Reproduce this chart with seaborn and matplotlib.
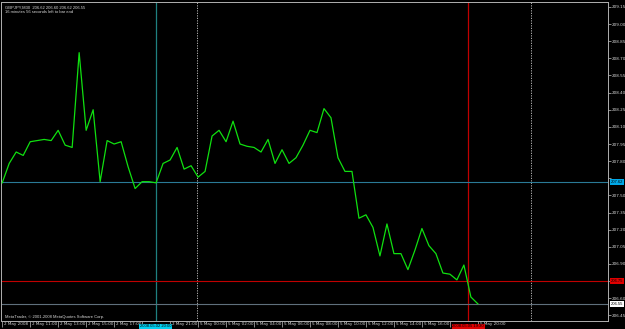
import matplotlib
matplotlib.use("Agg")
import matplotlib.pyplot as plt
import matplotlib.transforms as mtransforms
import seaborn as sns
import numpy as np
import pandas as pd

# ---- data (GBPJPY M30 close prices) ----
prices = [207.61, 207.78, 207.88, 207.85, 207.97, 207.98, 207.99, 207.98, 208.07, 207.94,
          207.92, 208.75, 208.07, 208.25, 207.62, 207.98, 207.95, 207.97, 207.75, 207.56,
          207.62, 207.62, 207.61, 207.78, 207.81, 207.92, 207.73, 207.76, 207.66, 207.71,
          208.02, 208.07, 207.97, 208.15, 207.95, 207.93, 207.92, 207.88, 207.99, 207.78,
          207.90, 207.78, 207.83, 207.94, 208.07, 208.05, 208.26, 208.18, 207.83, 207.71,
          207.71, 207.30, 207.33, 207.22, 206.97, 207.25, 206.99, 206.99, 206.85, 207.02,
          207.21, 207.06, 206.99, 206.82, 206.81, 206.76, 206.89, 206.61, 206.55]
bars = list(range(len(prices)))

x_tick_pos = [0, 4, 8, 12, 16, 20, 24, 28, 32, 36, 40, 44, 48, 52, 56, 60, 64, 68]
x_tick_labels = ["2 May 2008", "2 May 11:00", "2 May 13:00", "2 May 15:00", "2 May 17:00",
                 "", "2 May 21:00", "5 May 00:00", "5 May 02:00", "5 May 04:00",
                 "5 May 06:00", "5 May 08:00", "5 May 10:00", "5 May 12:00", "5 May 14:00",
                 "5 May 16:00", "", "5 May 20:00"]
y_ticks = [209.15, 209.00, 208.85, 208.70, 208.55, 208.40, 208.25, 208.10, 207.95, 207.80,
           207.65, 207.50, 207.35, 207.20, 207.05, 206.90, 206.75, 206.60, 206.45]
y_tick_labels = ["209.15", "209.00", "208.85", "208.70", "208.55", "208.40", "208.25", "208.10",
                 "207.95", "207.80", "", "207.50", "207.35", "207.20", "207.05", "206.90", "",
                 "206.60", "206.45"]

header1 = "GBPJPY,M30  206.62 206.60 206.62 206.55"
header2 = "16 minutes 56 seconds left to bar end"
footer = "MetaTrader, \u00a9 2001-2008 MetaQuotes Software Corp."

cyan_bar, cyan_time = 22, "2008.05.02 20:00"
red_bar, red_time = 66.65, "2008.05.05 19:30"
cyan_price, red_price, bid_price = 207.62, 206.75, 206.55
day_separators = [27.9, 75.6]

df = pd.DataFrame({"bar": bars, "price": prices})

# ---- figure ----
W, H = 625, 329
fig = plt.figure(figsize=(W / 100, H / 100), dpi=100, facecolor="black")
ax = fig.add_axes([1.5 / W, (H - 321) / H, (608 - 1.5) / W, (321 - 1.5) / H])
ax.set_facecolor("black")
plt.rcParams["font.family"] = ["Liberation Sans", "DejaVu Sans"]

fs = 3.0
fc = "#d8d8d8"

for d in day_separators:
    ax.axvline(d, color="#c8c8c8", lw=0.6, ls=(0, (1.5, 1.5)), zorder=1)
ax.axvline(cyan_bar, color="#1f8080", lw=0.9, zorder=1)
ax.axvline(red_bar, color="#c00000", lw=0.9, zorder=1)
ax.axhline(cyan_price, color="#2a7a96", lw=0.8, zorder=1)
ax.axhline(red_price, color="#c00000", lw=0.8, zorder=1)
ax.axhline(bid_price, color="#5f6f7c", lw=0.8, zorder=1)

sns.lineplot(data=df, x="bar", y="price", ax=ax, color="#10e010", lw=0.9, zorder=3)

ax.set_xlim(-0.1, 86.6)
ax.set_ylim(206.40, 209.198)
ax.set_xlabel("")
ax.set_ylabel("")

ax.yaxis.tick_right()
ax.set_yticks(y_ticks)
ax.set_yticklabels(y_tick_labels, fontsize=fs, color=fc)
ax.set_xticks(x_tick_pos)
ax.set_xticklabels(x_tick_labels, fontsize=fs, color=fc, ha="left")
ax.tick_params(axis="y", length=2, width=0.5, color="#c0c0c0", pad=0.8)
ax.tick_params(axis="x", length=4, width=0.5, color="#c0c0c0", pad=-3.2, direction="out")
for lbl in ax.get_xticklabels():
    lbl.set_transform(lbl.get_transform() + mtransforms.ScaledTranslation(1.8 / 100, 0, fig.dpi_scale_trans))
ax.grid(False)
for s in ax.spines.values():
    s.set_color("#b0b0b0")
    s.set_linewidth(0.7)

# price labels on the right axis
ty = mtransforms.blended_transform_factory(ax.transAxes, ax.transData)
box_kw = dict(boxstyle="square,pad=0.2", ec="none")
ax.text(1.004, cyan_price, f"{cyan_price:.2f}", transform=ty, fontsize=fs, color="black",
        va="center", ha="left", bbox=dict(fc="#00a8e8", **box_kw), zorder=5, clip_on=False)
ax.text(1.004, red_price, f"{red_price:.2f}", transform=ty, fontsize=fs, color="black",
        va="center", ha="left", bbox=dict(fc="#e00000", **box_kw), zorder=5, clip_on=False)
ax.text(1.004, bid_price, f"{bid_price:.2f}", transform=ty, fontsize=fs, color="black",
        va="center", ha="left", bbox=dict(fc="white", **box_kw), zorder=5, clip_on=False)

# time labels on the bottom axis
tx = mtransforms.blended_transform_factory(ax.transData, ax.transAxes)
ax.text(cyan_bar - 2.3, -0.017, cyan_time, transform=tx, fontsize=fs, color="black",
        va="center", ha="left", bbox=dict(fc="#00d0f0", **box_kw), zorder=5, clip_on=False)
ax.text(red_bar - 2.3, -0.017, red_time, transform=tx, fontsize=fs, color="black",
        va="center", ha="left", bbox=dict(fc="#e00000", **box_kw), zorder=5, clip_on=False)

ax.text(0.005, 0.988, header1, transform=ax.transAxes, fontsize=fs, color=fc, va="top", ha="left")
ax.text(0.005, 0.972, header2, transform=ax.transAxes, fontsize=fs, color=fc, va="top", ha="left")
ax.text(0.005, 0.006, footer, transform=ax.transAxes, fontsize=fs, color=fc, va="bottom", ha="left")

fig.savefig("out.png", dpi=100, facecolor="black")
